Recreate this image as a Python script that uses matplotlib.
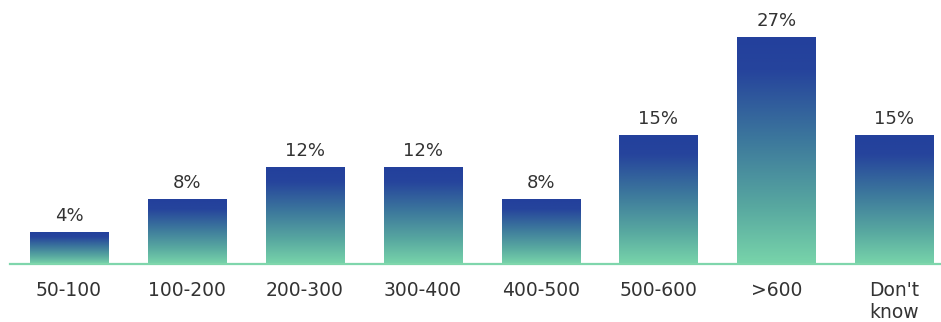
import numpy as np
import matplotlib.pyplot as plt
from matplotlib.colors import LinearSegmentedColormap

categories = ['50-100', '100-200', '200-300', '300-400', '400-500', '500-600', '>600', "Don't\nknow"]
values = [3.8, 7.7, 11.5, 11.5, 7.7, 15.3, 27.0, 15.3]
labels = ['4%', '8%', '12%', '12%', '8%', '15%', '27%', '15%']

grad = LinearSegmentedColormap.from_list('bars', [
    (0.0, '#78d4aa'), (0.25, '#58a8a0'), (0.55, '#3c779c'), (0.85, '#26449c'), (1.0, '#23409c')])

fig = plt.figure(figsize=(9.41, 3.22), dpi=100)
ax = fig.add_axes([0, 0.18, 1, 0.82])

x = np.arange(len(categories))
bars = ax.bar(x, values, width=0.662, color='none', edgecolor='none', zorder=2)
g = np.linspace(0, 1, 256).reshape(-1, 1)
for b in bars:
    x0, y0 = b.get_x(), b.get_y()
    w, h = b.get_width(), b.get_height()
    im = ax.imshow(g, cmap=grad, origin='lower', aspect='auto',
                   extent=[x0, x0 + w, y0, y0 + h], zorder=2)
    im.set_clip_path(b)

for xi, v, lab in zip(x, values, labels):
    ax.annotate(lab, (xi, v), xytext=(0, 5), textcoords='offset points',
                ha='center', va='bottom', fontsize=13, color='#333333')

ax.axhline(0, xmin=(10 / 941), xmax=1, color='#7fd6ac', lw=1.6, zorder=3, clip_on=False)

ax.set_xlim(-0.585, 7.396)
ax.set_ylim(0, 31.4)
ax.set_xticks(x)
ax.set_xticklabels(categories, fontsize=13.5, color='#333333', linespacing=1.2, va='top')
ax.tick_params(axis='x', length=0, pad=12.5)
ax.set_yticks([])
for s in ax.spines.values():
    s.set_visible(False)

fig.savefig('out.png', dpi=100)
